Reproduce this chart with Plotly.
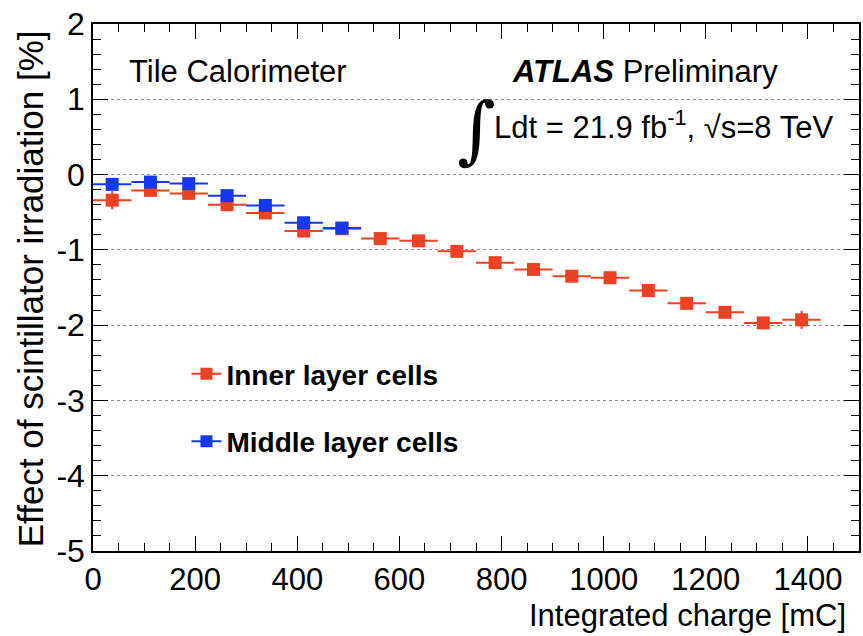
import plotly.graph_objects as go

# ---- data ----
inner_x = [37.5, 112.5, 187.5, 262.5, 337.5, 412.5, 487.5, 562.5, 637.5, 712.5,
           787.5, 862.5, 937.5, 1012.5, 1087.5, 1162.5, 1237.5, 1312.5, 1387.5]
inner_y = [-0.34, -0.21, -0.25, -0.40, -0.51, -0.75, -0.72, -0.85, -0.88, -1.02,
           -1.17, -1.26, -1.35, -1.37, -1.54, -1.71, -1.83, -1.97, -1.93]
inner_yerr = [0.12, 0.05, 0.05, 0.05, 0.05, 0.05, 0.05, 0.05, 0.05, 0.05,
              0.05, 0.05, 0.05, 0.05, 0.05, 0.05, 0.05, 0.05, 0.12]
inner_xerr = [37.5] * 19

middle_x = [37.5, 112.5, 187.5, 262.5, 337.5, 412.5, 487.5]
middle_y = [-0.13, -0.10, -0.12, -0.28, -0.41, -0.64, -0.71]
middle_yerr = [0.05, 0.05, 0.05, 0.05, 0.05, 0.05, 0.05]
middle_xerr = [37.5] * 7

x_tick_vals = [0, 200, 400, 600, 800, 1000, 1200, 1400]
x_tick_text = ["0", "200", "400", "600", "800", "1000", "1200", "1400"]
y_tick_vals = [-5, -4, -3, -2, -1, 0, 1, 2]
y_tick_text = ["-5", "-4", "-3", "-2", "-1", "0", "1", "2"]

RED = "#EC4124"
BLUE = "#1438F0"
FONT = "Liberation Sans, Arial, Helvetica, sans-serif"

fig = go.Figure()

fig.add_trace(go.Scatter(
    x=inner_x, y=inner_y, mode="markers",
    marker=dict(symbol="square", size=13, color=RED),
    error_x=dict(type="data", array=inner_xerr, color=RED, thickness=2, width=0),
    error_y=dict(type="data", array=inner_yerr, color=RED, thickness=2, width=0),
    showlegend=False, name="Inner layer cells"))
fig.add_trace(go.Scatter(
    x=middle_x, y=middle_y, mode="markers",
    marker=dict(symbol="square", size=13, color=BLUE),
    error_x=dict(type="data", array=middle_xerr, color=BLUE, thickness=2, width=0),
    error_y=dict(type="data", array=middle_yerr, color=BLUE, thickness=2, width=0),
    showlegend=False, name="Middle layer cells"))

# legend entries
fig.add_trace(go.Scatter(
    x=[None], y=[None], mode="lines+markers", legendgroup="a",
    line=dict(color=RED, width=2),
    marker=dict(symbol="square", size=12, color=RED),
    name="<b>Inner layer cells</b>"))
fig.add_trace(go.Scatter(
    x=[None], y=[None], mode="lines+markers", legendgroup="b",
    line=dict(color=BLUE, width=2),
    marker=dict(symbol="square", size=12, color=BLUE),
    name="<b>Middle layer cells</b>"))

axis_common = dict(
    showline=True, linecolor="black", linewidth=1.5, mirror="allticks",
    ticks="inside", ticklen=15, tickwidth=1, tickcolor="black",
    zeroline=False,
)

fig.update_xaxes(
    range=[0, 1500], tickvals=x_tick_vals, ticktext=x_tick_text,
    showgrid=False, tickfont=dict(family=FONT, size=31, color="black"),
    minor=dict(dtick=50, tick0=0, ticklen=8, ticks="inside", tickcolor="black", showgrid=False),
    **axis_common)
fig.update_yaxes(
    range=[-5, 2], tickvals=y_tick_vals, ticktext=y_tick_text,
    showgrid=True, gridcolor="#888888", griddash="dot", gridwidth=1,
    tickfont=dict(family=FONT, size=32, color="black"),
    minor=dict(dtick=0.2, tick0=0, ticklen=8, ticks="inside", tickcolor="black", showgrid=False),
    **axis_common)

fig.update_layout(
    width=863, height=636,
    margin=dict(l=93, r=2, t=24, b=85),
    paper_bgcolor="white", plot_bgcolor="white",
    font=dict(family=FONT, color="black"),
    legend=dict(x=0.122, y=0.383, xanchor="left", yanchor="top",
                bgcolor="rgba(0,0,0,0)", tracegroupgap=28,
                font=dict(family=FONT, size=28, color="black")),
    annotations=[
        dict(text="Tile Calorimeter", x=0.044, y=0.909, xref="paper", yref="paper",
             xanchor="left", yanchor="middle", showarrow=False,
             font=dict(family=FONT, size=31, color="black")),
        dict(text="<b><i>ATLAS</i></b> Preliminary", x=0.544, y=0.909,
             xref="paper", yref="paper", xanchor="left", yanchor="middle",
             showarrow=False, font=dict(family=FONT, size=31, color="black")),
        dict(text="\u222b", x=0.5, y=0.80, xref="paper", yref="paper",
             xanchor="center", yanchor="middle", showarrow=False,
             font=dict(family="DejaVu Serif", size=74, color="black")),
        dict(text="Ldt = 21.9 fb<sup>-1</sup>, \u221as=8 TeV", x=0.521, y=0.808,
             xref="paper", yref="paper", xanchor="left", yanchor="middle",
             showarrow=False, font=dict(family=FONT, size=31, color="black")),
        dict(text="Integrated charge [mC]", x=0.985, y=-0.122, xref="paper", yref="paper",
             xanchor="right", yanchor="middle", showarrow=False,
             font=dict(family=FONT, size=31, color="black")),
        dict(text="Effect of scintillator irradiation [%]", x=-0.082, y=0.497,
             xref="paper", yref="paper", xanchor="center", yanchor="middle",
             textangle=-90, showarrow=False,
             font=dict(family=FONT, size=35, color="black")),
    ],
)

fig.write_html("out.html", post_script="document.body.style.margin='0';",
               config={"displayModeBar": False})
